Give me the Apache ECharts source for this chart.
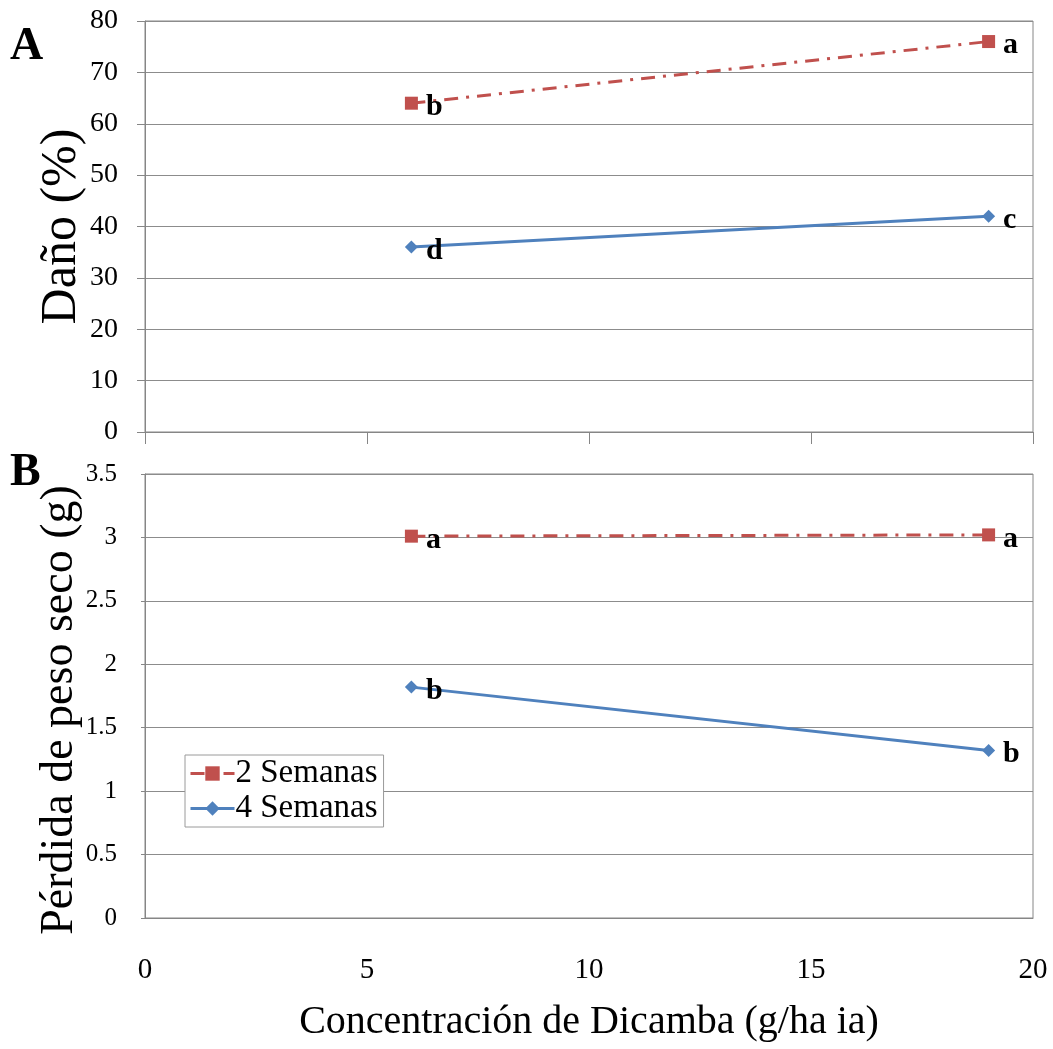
<!DOCTYPE html>
<html>
<head>
<meta charset="utf-8">
<script src="https://cdn.jsdelivr.net/npm/echarts@6/dist/echarts.min.js"></script>
<style>
html,body{margin:0;padding:0;background:#fff;}
#c{width:1053px;height:1049px;}
</style>
</head>
<body>
<div id="c"></div>
<script>
// Data
var concentrations = [6, 19];
var seriesNames = ['2 Semanas', '4 Semanas'];
var dano2 = [64, 76];
var dano4 = [36, 42];
var danoLetters2 = ['b', 'a'];
var danoLetters4 = ['d', 'c'];
var peso2 = [3.01, 3.02];
var peso4 = [1.82, 1.32];
var pesoLetters2 = ['a', 'a'];
var pesoLetters4 = ['b', 'b'];
var xTicks = [0, 5, 10, 15, 20];

var FONT = 'Liberation Serif, Times New Roman, serif';
var RED = '#C0504D';
var BLUE = '#4F81BD';
var AXIS = '#868686';
var GRID = '#8c8c8c';

function pairs(xs, ys) { return xs.map(function (x, i) { return [x, ys[i]]; }); }

function letterLabel(letters) {
  return {
    show: true, position: 'right', distance: 8, offset: [0, 4],
    fontFamily: FONT, fontWeight: 'bold', fontSize: 30, color: '#000',
    formatter: function (p) { return letters[p.dataIndex]; }
  };
}

function redSeries(name, xi, yi, data, letters) {
  return {
    name: name, type: 'line', xAxisIndex: xi, yAxisIndex: yi,
    data: data, symbol: 'rect', symbolSize: 13,
    itemStyle: { color: RED },
    lineStyle: { color: RED, width: 3, type: [14, 8, 3, 8] },
    label: letterLabel(letters), z: 3
  };
}
function blueSeries(name, xi, yi, data, letters) {
  return {
    name: name, type: 'line', xAxisIndex: xi, yAxisIndex: yi,
    data: data, symbol: 'diamond', symbolSize: 13,
    itemStyle: { color: BLUE },
    lineStyle: { color: BLUE, width: 3 },
    label: letterLabel(letters), z: 3
  };
}

var chart = echarts.init(document.getElementById('c'), null, { renderer: 'canvas' });
chart.setOption({
  animation: false,
  backgroundColor: '#fff',
  textStyle: { fontFamily: FONT },
  grid: [
    { left: 145, right: 20, top: 21, height: 411, show: true, borderColor: AXIS, borderWidth: 1, backgroundColor: 'transparent' },
    { left: 145, right: 20, top: 474, height: 444, show: true, borderColor: AXIS, borderWidth: 1, backgroundColor: 'transparent' }
  ],
  xAxis: [
    { type: 'value', gridIndex: 0, min: 0, max: 20, interval: 5,
      axisLine: { show: true, onZero: false, lineStyle: { color: AXIS, width: 1 } },
      axisTick: { show: true, length: 12, lineStyle: { color: AXIS } },
      axisLabel: { show: false }, splitLine: { show: false } },
    { type: 'value', gridIndex: 1, min: 0, max: 20, interval: 5,
      axisLine: { show: true, onZero: false, lineStyle: { color: AXIS, width: 1 } },
      axisTick: { show: false },
      axisLabel: { show: true, margin: 38, fontSize: 29, color: '#000', fontFamily: FONT,
        customValues: xTicks },
      splitLine: { show: false },
      name: 'Concentración de Dicamba (g/ha ia)', nameLocation: 'middle', nameGap: 84,
      nameMoveOverlap: false,
      nameTextStyle: { fontSize: 40, color: '#000', fontFamily: FONT } }
  ],
  yAxis: [
    { type: 'value', gridIndex: 0, min: 0, max: 80, interval: 10,
      axisLine: { show: true, lineStyle: { color: AXIS, width: 1 } },
      axisTick: { show: true, length: 8, lineStyle: { color: AXIS } },
      axisLabel: { margin: 27, fontSize: 28, color: '#000', fontFamily: FONT },
      splitLine: { show: true, lineStyle: { color: GRID, width: 1 } },
      name: 'Daño (%)', nameLocation: 'middle', nameRotate: 90, nameGap: 58,
      nameMoveOverlap: false,
      nameTextStyle: { fontSize: 50, color: '#000', fontFamily: FONT } },
    { type: 'value', gridIndex: 1, min: 0, max: 3.5, interval: 0.5,
      axisLine: { show: true, lineStyle: { color: AXIS, width: 1 } },
      axisTick: { show: true, length: 4, lineStyle: { color: AXIS } },
      axisLabel: { margin: 28, fontSize: 25, color: '#000', fontFamily: FONT },
      splitLine: { show: true, lineStyle: { color: GRID, width: 1 } },
      name: 'Pérdida de peso seco (g)', nameLocation: 'middle', nameRotate: 90, nameGap: 62,
      nameMoveOverlap: false,
      nameTextStyle: { fontSize: 46, color: '#000', fontFamily: FONT, padding: [0, 28, 0, 0] } }
  ],
  legend: {
    show: true, left: 185, top: 755, orient: 'vertical',
    data: seriesNames,
    backgroundColor: '#fff', borderColor: '#9a9a9a', borderWidth: 1,
    padding: [2, 6, 2, 4], itemGap: 2, itemWidth: 44, itemHeight: 18,
    lineStyle: { width: 3 },
    textStyle: { fontSize: 33, color: '#000', fontFamily: FONT, padding: [0, 0, 0, -4] }
  },
  graphic: [
    { type: 'text', left: 10, top: 24, style: { text: 'A', font: 'bold 46px ' + FONT, fill: '#000' } },
    { type: 'text', left: 10, top: 450, style: { text: 'B', font: 'bold 46px ' + FONT, fill: '#000' } }
  ],
  series: [
    redSeries(seriesNames[0], 0, 0, pairs(concentrations, dano2), danoLetters2),
    blueSeries(seriesNames[1], 0, 0, pairs(concentrations, dano4), danoLetters4),
    redSeries(seriesNames[0], 1, 1, pairs(concentrations, peso2), pesoLetters2),
    blueSeries(seriesNames[1], 1, 1, pairs(concentrations, peso4), pesoLetters4)
  ]
});
</script>
</body>
</html>
